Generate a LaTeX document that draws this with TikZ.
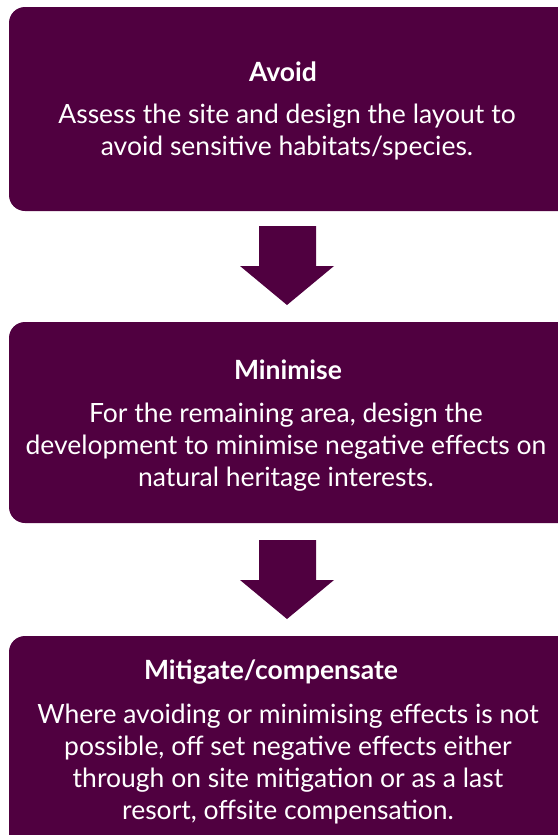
\documentclass[tikz,border=0pt]{standalone}
\usepackage{fontspec}
\setmainfont{Lato}
\definecolor{plum}{RGB}{80,0,64}
\begin{document}
\begin{tikzpicture}[x=1pt,y=-1pt,
  stepbox/.style={fill=plum,rounded corners=16pt},
  ttl/.style={text=white,font=\fontsize{26.5}{32}\selectfont\bfseries,anchor=base},
  body/.style={text=white,font=\fontsize{26.5}{32}\selectfont,align=center,anchor=north},
  downarrow/.style={fill=plum}]
\useasboundingbox (0,0) rectangle (557,835);
\fill[stepbox] (9,7) rectangle (575,211);
\fill[stepbox] (9,322) rectangle (575,523);
\fill[stepbox] (9,636) rectangle (575,860);
\node[ttl] (t1) at (283,81) {Avoid};
\node[body] (b1) at (287,100) {Assess the site and design the layout to\\avoid sensitive habitats/species.};
\node[ttl] (t2) at (288,379) {Minimise};
\node[body] (b2) at (286,399) {For the remaining area, design the\\development to minimise negative effects on\\natural heritage interests.};
\node[ttl] (t3) at (271,679) {Mitigate/compensate};
\node[body] (b3) at (288,700) {Where avoiding or minimising effects is not\\possible, off set negative effects either\\through on site mitigation or as a last\\resort, offsite compensation.};
\fill[downarrow] (259,226) -- (316,226) -- (316,266) -- (334,266) -- (287,305) -- (240,266) -- (259,266) -- cycle;
\fill[downarrow] (259,540) -- (316,540) -- (316,580) -- (334,580) -- (287,619) -- (240,580) -- (259,580) -- cycle;
\end{tikzpicture}
\end{document}
